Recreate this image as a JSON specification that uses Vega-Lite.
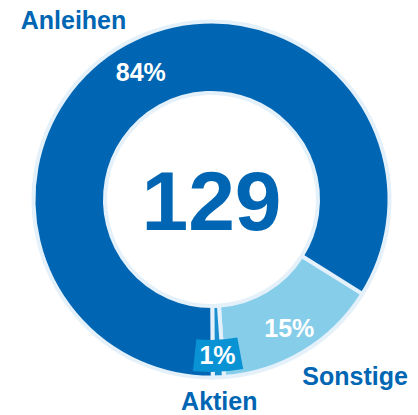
{
  "$schema": "https://vega.github.io/schema/vega-lite/v6.json",
  "width": 413,
  "height": 399,
  "autosize": "none",
  "padding": {"left": 5, "right": 0, "top": 0, "bottom": 16},
  "background": "white",
  "view": {"stroke": null},
  "data": {"values": [
    {"cat": "Sonstige", "v": 0.15, "ord": 1},
    {"cat": "Aktien", "v": 0.01, "ord": 2},
    {"cat": "Anleihen", "v": 0.84, "ord": 3}
  ]},
  "layer": [
    {
      "mark": {"type": "arc", "innerRadius": 106.5, "outerRadius": 178, "stroke": "#e4f1fa", "strokeWidth": 4},
      "encoding": {
        "theta": {"field": "v", "type": "quantitative", "stack": true, "scale": {"range": [2.1293, 8.4125]}},
        "order": {"field": "ord", "type": "quantitative"},
        "color": {"field": "cat", "type": "nominal", "legend": null,
          "scale": {"domain": ["Anleihen", "Sonstige", "Aktien"], "range": ["#0066b3", "#86cdea", "#1a8fd0"]}}
      }
    },
    {
      "transform": [
        {"stack": "v", "groupby": [], "sort": [{"field": "ord"}], "as": ["t0", "t1"]},
        {"filter": "datum.cat === 'Aktien'"}
      ],
      "mark": {"type": "arc", "innerRadius": 140.5, "outerRadius": 172.5, "thetaOffset": -0.115, "theta2Offset": 0.115, "fill": "#0a93d4"},
      "encoding": {
        "theta": {"field": "t0", "type": "quantitative"},
        "theta2": {"field": "t1"}
      }
    },
    {
      "mark": {"type": "text", "radius": 145, "font": "Liberation Sans", "fontWeight": "bold", "fontSize": 25, "fill": "white", "align": "center", "baseline": "middle"},
      "encoding": {
        "theta": {"field": "v", "type": "quantitative", "stack": true},
        "order": {"field": "ord", "type": "quantitative"},
        "detail": {"field": "cat"},
        "text": {"field": "v", "type": "quantitative", "format": ".0%"},
        "opacity": {"condition": {"test": "datum.cat === 'Anleihen'", "value": 1}, "value": 0}
      }
    },
    {
      "mark": {"type": "text", "radius": 151, "font": "Liberation Sans", "fontWeight": "bold", "fontSize": 25, "fill": "white", "align": "center", "baseline": "middle"},
      "encoding": {
        "theta": {"field": "v", "type": "quantitative", "stack": true},
        "order": {"field": "ord", "type": "quantitative"},
        "detail": {"field": "cat"},
        "text": {"field": "v", "type": "quantitative", "format": ".0%"},
        "opacity": {"condition": {"test": "datum.cat === 'Sonstige'", "value": 1}, "value": 0}
      }
    },
    {
      "mark": {"type": "text", "radius": 157, "font": "Liberation Sans", "fontWeight": "bold", "fontSize": 25, "fill": "white", "align": "center", "baseline": "middle"},
      "encoding": {
        "theta": {"field": "v", "type": "quantitative", "stack": true},
        "order": {"field": "ord", "type": "quantitative"},
        "detail": {"field": "cat"},
        "text": {"field": "v", "type": "quantitative", "format": ".0%"},
        "opacity": {"condition": {"test": "datum.cat === 'Aktien'", "value": 1}, "value": 0}
      }
    },
    {
      "mark": {"type": "text", "radius": 205, "dx": -38, "font": "Liberation Sans", "fontWeight": "bold", "fontSize": 25, "fill": "#0066b3", "align": "center", "baseline": "middle"},
      "encoding": {
        "theta": {"field": "v", "type": "quantitative", "stack": true},
        "order": {"field": "ord", "type": "quantitative"},
        "detail": {"field": "cat"},
        "text": {"field": "cat"},
        "opacity": {"condition": {"test": "datum.cat === 'Anleihen'", "value": 1}, "value": 0}
      }
    },
    {
      "mark": {"type": "text", "radius": 207, "dx": 37, "font": "Liberation Sans", "fontWeight": "bold", "fontSize": 25, "fill": "#0066b3", "align": "center", "baseline": "middle"},
      "encoding": {
        "theta": {"field": "v", "type": "quantitative", "stack": true},
        "order": {"field": "ord", "type": "quantitative"},
        "detail": {"field": "cat"},
        "text": {"field": "cat"},
        "opacity": {"condition": {"test": "datum.cat === 'Sonstige'", "value": 1}, "value": 0}
      }
    },
    {
      "mark": {"type": "text", "radius": 203, "font": "Liberation Sans", "fontWeight": "bold", "fontSize": 25, "fill": "#0066b3", "align": "center", "baseline": "middle"},
      "encoding": {
        "theta": {"field": "v", "type": "quantitative", "stack": true},
        "order": {"field": "ord", "type": "quantitative"},
        "detail": {"field": "cat"},
        "text": {"field": "cat"},
        "opacity": {"condition": {"test": "datum.cat === 'Aktien'", "value": 1}, "value": 0}
      }
    },
    {
      "data": {"values": [{"total": 129}]},
      "mark": {"type": "text", "font": "Liberation Sans", "fontWeight": "bold", "fontSize": 84, "fill": "#0066b3", "align": "center", "baseline": "middle", "dy": 5},
      "encoding": {
        "text": {"field": "total", "type": "quantitative"}
      }
    }
  ]
}
